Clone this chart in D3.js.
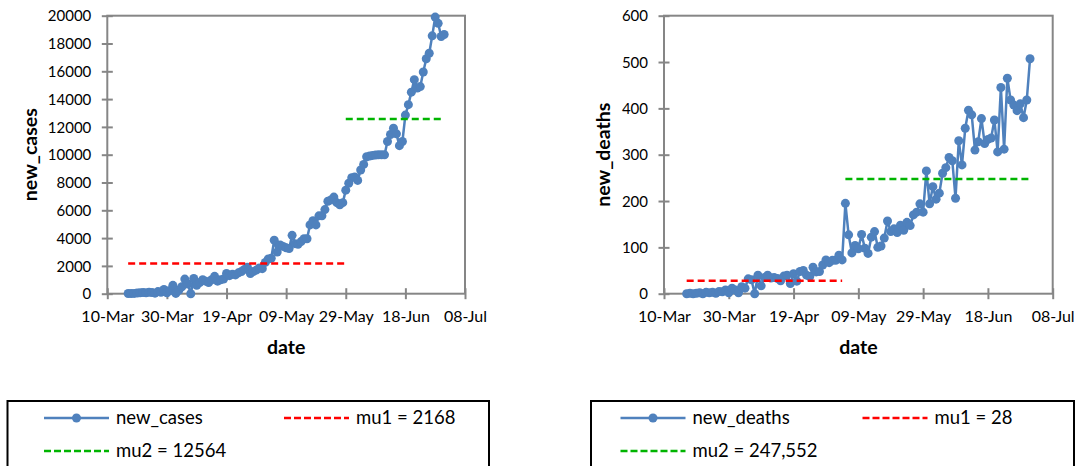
<!DOCTYPE html>
<html>
<head>
<meta charset="utf-8">
<script src="https://cdn.jsdelivr.net/npm/d3@7"></script>
<style>
    body { margin: 0; background: #fff; }
    text { font-family: Lato, "Open Sans", sans-serif; fill: #000; }
</style>
</head>
<body>
<div id="chart-area"></div>
<script>

// daily values, one per day from 17-Mar to 01-Jul
const firstDay = "2020-03-17";

const newCases = [
    15, 12, 20, 50, 60, 80, 70, 100, 90, 40,
    150, 100, 300, 60, 230, 600, 20, 250, 500, 1050,
    700, 0, 1100, 600, 800, 1000, 900, 800, 1000, 1250,
    900, 1000, 1050, 1450, 1300, 1400, 1350, 1500, 1600, 1750,
    1900, 1450, 1600, 1700, 1850, 1800, 2250, 2500, 2550, 3850,
    3000, 3500, 3400, 3300, 3250, 4200, 3600, 3550, 3750, 3950,
    3950, 4950, 5250, 4950, 5600, 5600, 6050, 6650, 6750, 6950,
    6550, 6400, 6550, 7450, 7950, 8350, 8400, 8150, 8900, 9300,
    9850, 9900, 9950, 9980, 9990, 9990, 9990, 10950, 11450, 11900,
    11500, 10650, 10950, 12850, 13600, 14500, 15400, 14800, 14900, 15950,
    16900, 17300, 18550, 19900, 19450, 18500, 18650
];

const newDeaths = [
    0, 1, 0, 1, 2, 0, 3, 2, 3, 1,
    5, 4, 8, 2, 12, 8, 2, 15, 12, 32,
    30, 0, 40, 17, 35, 40, 34, 35, 33, 28,
    38, 40, 22, 43, 27, 48, 50, 40, 37, 57,
    47, 48, 62, 73, 67, 72, 72, 83, 73, 195,
    127, 88, 104, 97, 128, 98, 87, 122, 134, 100,
    103, 120, 157, 134, 140, 132, 148, 137, 154, 147,
    170, 176, 194, 176, 265, 194, 231, 204, 217, 260,
    272, 294, 287, 206, 330, 278, 357, 396, 386, 310,
    328, 378, 324, 333, 336, 375, 306, 445, 312, 465,
    418, 407, 395, 410, 380, 418, 507
];

// segment means (mu1, mu2) and the dates they cover
const casesMu = [2168, 12564];
const casesMuSpan = [["2020-03-17", "2020-05-29"], ["2020-05-29", "2020-07-01"]];
const deathsMu = [28, 247.552];
const deathsMuSpan = [["2020-03-17", "2020-05-04"], ["2020-05-05", "2020-07-01"]];

const xTickLabels = ["10-Mar", "30-Mar", "19-Apr", "09-May", "29-May", "18-Jun", "08-Jul"];
const casesTicks = [0, 2000, 4000, 6000, 8000, 10000, 12000, 14000, 16000, 18000, 20000];
const deathsTicks = [0, 100, 200, 300, 400, 500, 600];

const casesLegend = ["new_cases", "mu1 = 2168", "mu2 = 12564"];
const deathsLegend = ["new_deaths", "mu1 = 28", "mu2 = 247,552"];


class MeanShiftChart {
    constructor(svg, opts) {
        this.svg = svg
        this.opts = opts
        this.parseDate = d3.timeParse("%Y-%m-%d");
        this.parseTick = d3.timeParse("%d-%b-%Y");
        this.formatTick = d3.timeFormat("%d-%b");

        this.blue = "#4f81bd"
        this.axisColor = "#868686"

        this.initVis()
    }

    initVis() {
        let vis = this;
        let o = vis.opts;

        vis.width = o.right - o.left;
        vis.height = o.bottom - o.top;

        vis.g = vis.svg.append("g")
            .attr("transform", "translate(" + o.left + "," + o.top + ")");

        vis.tickDates = xTickLabels.map(s => vis.parseTick(s + "-2020"));

        vis.x = d3.scaleTime()
            .domain([vis.tickDates[0], vis.tickDates[vis.tickDates.length - 1]])
            .range([0, vis.width]);

        vis.y = d3.scaleLinear()
            .domain([0, d3.max(o.yTicks)])
            .range([vis.height, 0]);

        // one record per day
        let start = vis.parseDate(firstDay);
        vis.displayData = o.values.map((v, i) => ({date: d3.timeDay.offset(start, i), value: v}));

        vis.means = o.mu.map((m, i) => ({
            value: m,
            from: vis.parseDate(o.muSpan[i][0]),
            to: vis.parseDate(o.muSpan[i][1]),
            color: i === 0 ? "#ff0000" : "#00b400"
        }));

        vis.updateVis()
    }

    updateVis() {
        let vis = this;
        let o = vis.opts;

        // plot frame
        vis.g.append("rect")
            .attr("width", vis.width)
            .attr("height", vis.height)
            .attr("fill", "none")
            .attr("stroke", vis.axisColor)
            .attr("stroke-width", 2);

        // y axis, ticks cross the line
        let yAxis = vis.g.append("g")
            .call(d3.axisLeft(vis.y).tickValues(o.yTicks).tickFormat(d3.format("d")).tickSizeOuter(0));
        yAxis.select(".domain").remove();
        yAxis.selectAll(".tick line")
            .attr("x1", -5.5).attr("x2", 5.5)
            .attr("stroke", vis.axisColor).attr("stroke-width", 2);
        yAxis.selectAll(".tick text")
            .attr("x", -16).attr("dy", "0.35em")
            .style("font-size", "15px")
            .style("font-family", "Lato");

        let xAxis = vis.g.append("g")
            .attr("transform", "translate(0," + vis.height + ")")
            .call(d3.axisBottom(vis.x).tickValues(vis.tickDates).tickFormat(vis.formatTick).tickSizeOuter(0));
        xAxis.select(".domain").remove();
        xAxis.selectAll(".tick line")
            .attr("y1", -5.5).attr("y2", 5.5)
            .attr("stroke", vis.axisColor).attr("stroke-width", 2);
        xAxis.selectAll(".tick text")
            .attr("y", 23).attr("dy", "0.35em")
            .style("font-size", "16px")
            .style("font-family", "Lato");

        // axis titles
        vis.g.append("text")
            .attr("transform", "translate(" + o.yTitleX + "," + vis.height / 2 + ") rotate(-90)")
            .attr("text-anchor", "middle")
            .attr("dy", "0.35em")
            .style("font-size", "19.5px")
            .style("font-weight", "bold")
            .text(o.yTitle);

        vis.g.append("text")
            .attr("x", vis.width / 2)
            .attr("y", vis.height + 53)
            .attr("text-anchor", "middle")
            .attr("dy", "0.35em")
            .style("font-size", "19.5px")
            .style("font-weight", "bold")
            .text("date");

        // series
        let line = d3.line()
            .x(d => vis.x(d.date))
            .y(d => vis.y(d.value));

        vis.g.append("path")
            .datum(vis.displayData)
            .attr("d", line)
            .attr("fill", "none")
            .attr("stroke", vis.blue)
            .attr("stroke-width", 2.5)
            .attr("stroke-linejoin", "round");

        vis.g.selectAll(".dot")
            .data(vis.displayData)
            .enter()
            .append("circle")
            .attr("class", "dot")
            .attr("cx", d => vis.x(d.date))
            .attr("cy", d => vis.y(d.value))
            .attr("r", 4.5)
            .attr("fill", vis.blue);

        // mean lines on top
        vis.g.selectAll(".mu")
            .data(vis.means)
            .enter()
            .append("line")
            .attr("class", "mu")
            .attr("x1", d => vis.x(d.from))
            .attr("x2", d => vis.x(d.to))
            .attr("y1", d => vis.y(d.value))
            .attr("y2", d => vis.y(d.value))
            .attr("stroke", d => d.color)
            .attr("stroke-width", 2.5)
            .attr("stroke-dasharray", "7,4");

        vis.drawLegend()
    }

    drawLegend() {
        let vis = this;
        let L = vis.opts.legend;

        let lg = vis.svg.append("g");

        lg.append("rect")
            .attr("x", L.x).attr("y", L.y)
            .attr("width", L.w).attr("height", 90)
            .attr("fill", "none")
            .attr("stroke", "#000")
            .attr("stroke-width", 2);

        let items = vis.opts.legendText.map((t, i) => ({
            text: t,
            cx: i === 1 ? L.col2 : L.col1,
            cy: i === 2 ? L.row2 : L.row1,
            color: i === 0 ? vis.blue : (i === 1 ? "#ff0000" : "#00b400"),
            dashed: i > 0
        }));

        let item = lg.selectAll(".item")
            .data(items)
            .enter()
            .append("g")
            .attr("class", "item")
            .attr("transform", d => "translate(" + d.cx + "," + d.cy + ")");

        item.append("line")
            .attr("x1", 0).attr("x2", 65)
            .attr("stroke", d => d.color)
            .attr("stroke-width", 2.5)
            .attr("stroke-dasharray", d => d.dashed ? "7,3" : null);

        item.filter(d => !d.dashed)
            .append("circle")
            .attr("cx", 32.5)
            .attr("r", 4.5)
            .attr("fill", vis.blue);

        item.append("text")
            .attr("x", 72)
            .attr("dy", "0.35em")
            .style("font-size", "18.5px")
            .text(d => d.text);
    }
}


let svg = d3.select("#chart-area").append("svg")
    .attr("width", 1075)
    .attr("height", 466)
    .style("display", "block");

svg.append("rect").attr("width", 1075).attr("height", 466).attr("fill", "#fff");

new MeanShiftChart(svg, {
    left: 107.3, right: 465, top: 15.7, bottom: 293.7,
    values: newCases, yTicks: casesTicks,
    mu: casesMu, muSpan: casesMuSpan,
    yTitle: "new_cases", yTitleX: -77,
    legendText: casesLegend,
    legend: {x: 7.5, y: 401, w: 481.5, col1: 44, col2: 284, row1: 418, row2: 451}
});

new MeanShiftChart(svg, {
    left: 664, right: 1052.7, top: 15.7, bottom: 293.7,
    values: newDeaths, yTicks: deathsTicks,
    mu: deathsMu, muSpan: deathsMuSpan,
    yTitle: "new_deaths", yTitleX: -61,
    legendText: deathsLegend,
    legend: {x: 591, y: 401, w: 483, col1: 620.5, col2: 862.5, row1: 418, row2: 451}
});

</script>
</body>
</html>
